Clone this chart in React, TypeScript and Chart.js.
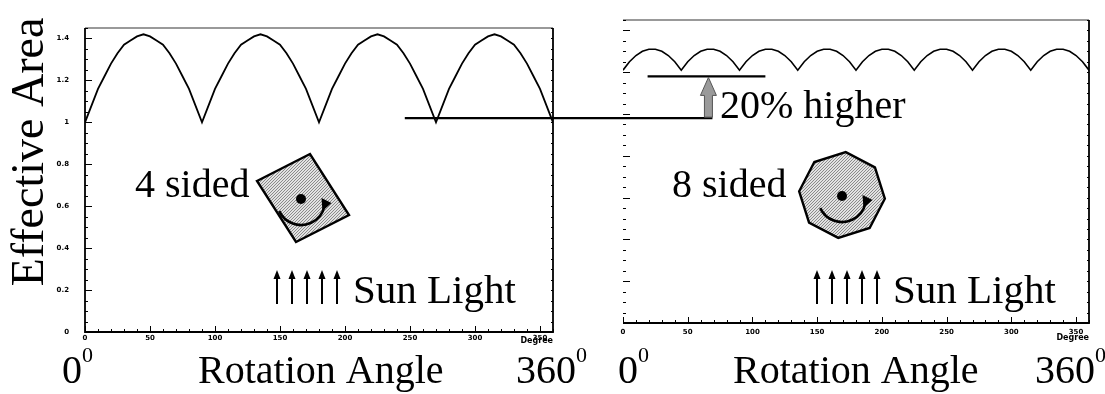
import React, { useEffect, useRef } from "react";
import { Chart, registerables } from "chart.js";

Chart.register(...registerables);

// ---------------- data ----------------
const ANGLES = [
  0, 5, 10, 15, 20, 25, 30, 35, 40, 45, 50, 55, 60, 65, 70, 75, 80, 85,
  90, 95, 100, 105, 110, 115, 120, 125, 130, 135, 140, 145, 150, 155, 160, 165, 170, 175,
  180, 185, 190, 195, 200, 205, 210, 215, 220, 225, 230, 235, 240, 245, 250, 255, 260, 265,
  270, 275, 280, 285, 290, 295, 300, 305, 310, 315, 320, 325, 330, 335, 340, 345, 350, 355,
  360,
];

// effective area of the 4 sided body
const FOUR_SIDED = [
  1.0, 1.08, 1.16, 1.22, 1.28, 1.33, 1.37, 1.39, 1.41, 1.42, 1.41, 1.39, 1.37, 1.33, 1.28, 1.22, 1.16, 1.08,
  1.0, 1.08, 1.16, 1.22, 1.28, 1.33, 1.37, 1.39, 1.41, 1.42, 1.41, 1.39, 1.37, 1.33, 1.28, 1.22, 1.16, 1.08,
  1.0, 1.08, 1.16, 1.22, 1.28, 1.33, 1.37, 1.39, 1.41, 1.42, 1.41, 1.39, 1.37, 1.33, 1.28, 1.22, 1.16, 1.08,
  1.0, 1.08, 1.16, 1.22, 1.28, 1.33, 1.37, 1.39, 1.41, 1.42, 1.41, 1.39, 1.37, 1.33, 1.28, 1.22, 1.16, 1.08,
  1.0,
];

// effective area of the 8 sided body
const EIGHT_SIDED = [
  1.21, 1.25, 1.28, 1.3, 1.31, 1.31, 1.3, 1.28, 1.25,
  1.21, 1.25, 1.28, 1.3, 1.31, 1.31, 1.3, 1.28, 1.25,
  1.21, 1.25, 1.28, 1.3, 1.31, 1.31, 1.3, 1.28, 1.25,
  1.21, 1.25, 1.28, 1.3, 1.31, 1.31, 1.3, 1.28, 1.25,
  1.21, 1.25, 1.28, 1.3, 1.31, 1.31, 1.3, 1.28, 1.25,
  1.21, 1.25, 1.28, 1.3, 1.31, 1.31, 1.3, 1.28, 1.25,
  1.21, 1.25, 1.28, 1.3, 1.31, 1.31, 1.3, 1.28, 1.25,
  1.21, 1.25, 1.28, 1.3, 1.31, 1.31, 1.3, 1.28, 1.25,
  1.21,
];

const X_TICKS = [0, 50, 100, 150, 200, 250, 300, 350];
const Y_TICKS = [0, 0.2, 0.4, 0.6, 0.8, 1, 1.2, 1.4];
const X_MAX = 360;
const Y_MAX = 1.45;

// annotation levels ("20% higher")
const BASE_LEVEL = 1.02; // drawn on the left panel scale
const BASE_FROM_DEG = 246; // left panel
const RAISED_LEVEL = 1.18; // right panel scale
const RAISED_FROM_DEG = 19;
const RAISED_TO_DEG = 110;
const ARROW_DEG = 66; // right panel

const SERIF = '"Liberation Serif", "Times New Roman", serif';
const SMALL = "DejaVu Sans";

// ---------------- drawing helpers ----------------
function txt(
  ctx: CanvasRenderingContext2D,
  s: string,
  x: number,
  y: number,
  size: number,
  opts: { sx?: number; align?: CanvasTextAlign; rot?: number } = {}
) {
  ctx.save();
  ctx.translate(x, y);
  if (opts.rot) ctx.rotate(opts.rot);
  ctx.scale(opts.sx ?? 1, 1);
  ctx.font = `${size}px ${SERIF}`;
  ctx.textAlign = opts.align ?? "left";
  ctx.textBaseline = "alphabetic";
  ctx.fillStyle = "#000";
  ctx.fillText(s, 0, 0);
  ctx.restore();
}

function degreeText(ctx: CanvasRenderingContext2D, s: string, x: number, y: number) {
  ctx.save();
  ctx.font = `40px ${SERIF}`;
  ctx.fillStyle = "#000";
  ctx.textBaseline = "alphabetic";
  ctx.fillText(s, x, y);
  const w = ctx.measureText(s).width;
  ctx.font = `22px ${SERIF}`;
  ctx.fillText("0", x + w, y - 21);
  ctx.restore();
}

function sunArrows(ctx: CanvasRenderingContext2D, x0: number, yTop: number, yBot: number) {
  ctx.save();
  ctx.strokeStyle = "#000";
  ctx.fillStyle = "#000";
  ctx.lineWidth = 2;
  for (let i = 0; i < 5; i++) {
    const x = x0 + i * 15;
    ctx.beginPath();
    ctx.moveTo(x, yBot);
    ctx.lineTo(x, yTop + 6);
    ctx.stroke();
    ctx.beginPath();
    ctx.moveTo(x, yTop);
    ctx.lineTo(x - 3.5, yTop + 9);
    ctx.lineTo(x + 3.5, yTop + 9);
    ctx.closePath();
    ctx.fill();
  }
  ctx.restore();
}

function rotArrow(ctx: CanvasRenderingContext2D, cx: number, cy: number, r: number) {
  ctx.save();
  ctx.fillStyle = "#000";
  ctx.strokeStyle = "#000";
  ctx.beginPath();
  ctx.arc(cx, cy, 5, 0, Math.PI * 2);
  ctx.fill();
  const a0 = (155 * Math.PI) / 180;
  const a1 = (12 * Math.PI) / 180;
  ctx.lineWidth = 2.6;
  ctx.beginPath();
  ctx.arc(cx, cy + 2, r, a0, a1, true);
  ctx.stroke();
  const ex = cx + r * Math.cos(a1);
  const ey = cy + 2 + r * Math.sin(a1);
  ctx.beginPath();
  ctx.moveTo(ex + 7, ey - 3);
  ctx.lineTo(ex - 3, ey - 8);
  ctx.lineTo(ex - 2, ey + 5);
  ctx.closePath();
  ctx.fill();
  ctx.restore();
}

function shape(ctx: CanvasRenderingContext2D, pts: [number, number][], fill: CanvasPattern | string) {
  ctx.save();
  ctx.beginPath();
  pts.forEach(([x, y], i) => (i ? ctx.lineTo(x, y) : ctx.moveTo(x, y)));
  ctx.closePath();
  ctx.fillStyle = fill;
  ctx.fill();
  ctx.lineWidth = 2.4;
  ctx.strokeStyle = "#000";
  ctx.lineJoin = "miter";
  ctx.stroke();
  ctx.restore();
}

function drawFrame(chart: any, solidLeft: boolean) {
  const { ctx, chartArea } = chart;
  const { left, right, top, bottom } = chartArea;
  const x = chart.scales.x;
  const y = chart.scales.y;
  ctx.save();
  ctx.strokeStyle = "#000";
  ctx.lineWidth = 1.8;
  ctx.beginPath();
  if (solidLeft) {
    ctx.moveTo(left, top);
    ctx.lineTo(left, bottom);
  } else {
    ctx.moveTo(left, bottom);
  }
  ctx.lineTo(right, bottom);
  ctx.lineTo(right, top);
  ctx.stroke();
  ctx.strokeStyle = "#777";
  ctx.lineWidth = 1.3;
  ctx.beginPath();
  ctx.moveTo(left, top);
  ctx.lineTo(right, top);
  ctx.stroke();
  ctx.strokeStyle = "#000";
  ctx.lineWidth = 1;
  ctx.beginPath();
  for (let i = 0; i <= 29; i++) {
    const py = Math.round(y.getPixelForValue(i * 0.05)) + 0.5;
    const len = i % 4 === 0 ? 7 : 3;
    ctx.moveTo(left, py);
    ctx.lineTo(left + len, py);
    ctx.moveTo(right, py);
    ctx.lineTo(right - 2, py);
  }
  for (let d = 0; d <= X_MAX; d += 10) {
    const px = Math.round(x.getPixelForValue(d)) + 0.5;
    const len = d % 50 === 0 ? 6 : 3;
    ctx.moveTo(px, bottom);
    ctx.lineTo(px, bottom - len);
  }
  ctx.stroke();
  ctx.restore();
}

function makePattern(): CanvasPattern | string {
  const c = document.createElement("canvas");
  c.width = 3;
  c.height = 3;
  const g = c.getContext("2d");
  if (!g) return "#bbb";
  g.fillStyle = "#e2e2e2";
  g.fillRect(0, 0, 3, 3);
  g.fillStyle = "#8a8a8a";
  g.fillRect(0, 0, 1, 1);
  g.fillRect(2, 1, 1, 1);
  g.fillRect(1, 2, 1, 1);
  const p = g.createPattern(c, "repeat");
  return p ?? "#bbb";
}

function scales(o: { yw: number; xh: number; yLabels: boolean; xPad: number }) {
  return {
    x: {
      type: "linear" as const,
      min: 0,
      max: X_MAX,
      afterBuildTicks: (s: any) => {
        s.ticks = X_TICKS.map((v) => ({ value: v }));
      },
      afterFit: (s: any) => {
        s.height = o.xh;
      },
      grid: { display: false, drawTicks: false },
      border: { display: false },
      ticks: {
        autoSkip: false,
        maxRotation: 0,
        padding: o.xPad,
        color: "#000",
        font: { family: SMALL, size: 7, weight: "bold" as const },
        callback: (v: any) => String(v),
      },
      title: {
        display: true,
        text: "Degree",
        align: "end" as const,
        color: "#000",
        padding: 0,
        font: { family: SMALL, size: 8, weight: "bold" as const },
      },
    },
    y: {
      type: "linear" as const,
      min: 0,
      max: Y_MAX,
      afterBuildTicks: (s: any) => {
        s.ticks = Y_TICKS.map((v) => ({ value: v }));
      },
      afterFit: (s: any) => {
        s.width = o.yw;
      },
      grid: { display: false, drawTicks: false },
      border: { display: false },
      ticks: {
        display: o.yLabels,
        padding: 16,
        color: "#000",
        font: { family: SMALL, size: 7, weight: "bold" as const },
        callback: (v: any) => String(v),
      },
    },
  };
}

function lineData(values: number[]) {
  return ANGLES.map((a, i) => ({ x: a, y: values[i] }));
}

export default function App() {
  const leftRef = useRef<HTMLCanvasElement>(null);
  const rightRef = useRef<HTMLCanvasElement>(null);

  useEffect(() => {
    document.body.style.margin = "0";
    const pat = makePattern();

    const leftDecor = {
      id: "leftDecor",
      afterDraw(chart: any) {
        const ctx = chart.ctx as CanvasRenderingContext2D;
        drawFrame(chart, true);
        txt(ctx, "Effective Area", 43, 152, 46, { rot: -Math.PI / 2, align: "center" });
        degreeText(ctx, "0", 62, 383);
        txt(ctx, "Rotation Angle", 198, 383, 40);
        degreeText(ctx, "360", 516, 383);
        txt(ctx, "4 sided", 135, 197, 40);
        shape(ctx, [[257, 181], [310, 154], [349, 215], [296, 242]], pat);
        rotArrow(ctx, 301, 199, 24);
        sunArrows(ctx, 277, 270, 304);
        txt(ctx, "Sun Light", 353, 303, 41);
      },
    };

    const left = new Chart(leftRef.current!, {
      type: "line",
      data: {
        datasets: [
          {
            label: "4 sided",
            data: lineData(FOUR_SIDED),
            borderColor: "#000",
            borderWidth: 1.8,
            pointRadius: 0,
            tension: 0,
          },
        ],
      },
      options: {
        responsive: false,
        animation: false,
        layout: { padding: { left: 45, right: 552, top: 28, bottom: 48 } },
        plugins: { legend: { display: false }, tooltip: { enabled: false } },
        scales: scales({ yw: 40, xh: 14, yLabels: true, xPad: 2 }) as any,
      },
      plugins: [leftDecor],
    });

    const rightDecor = {
      id: "rightDecor",
      afterDraw(chart: any) {
        const ctx = chart.ctx as CanvasRenderingContext2D;
        drawFrame(chart, false);
        const rx = chart.scales.x;
        const ry = chart.scales.y;
        const lx = left.scales.x;
        const ly = left.scales.y;
        const arrowX = rx.getPixelForValue(ARROW_DEG);
        const baseY = ly.getPixelForValue(BASE_LEVEL);
        const raisedY = ry.getPixelForValue(RAISED_LEVEL);
        ctx.save();
        ctx.strokeStyle = "#000";
        ctx.lineWidth = 2.4;
        ctx.beginPath();
        ctx.moveTo(lx.getPixelForValue(BASE_FROM_DEG), baseY);
        ctx.lineTo(arrowX + 4, baseY);
        ctx.moveTo(rx.getPixelForValue(RAISED_FROM_DEG), raisedY);
        ctx.lineTo(rx.getPixelForValue(RAISED_TO_DEG), raisedY);
        ctx.stroke();
        ctx.beginPath();
        ctx.moveTo(arrowX, raisedY + 1);
        ctx.lineTo(arrowX - 8, raisedY + 19);
        ctx.lineTo(arrowX - 4, raisedY + 19);
        ctx.lineTo(arrowX - 4, baseY - 1);
        ctx.lineTo(arrowX + 4, baseY - 1);
        ctx.lineTo(arrowX + 4, raisedY + 19);
        ctx.lineTo(arrowX + 8, raisedY + 19);
        ctx.closePath();
        ctx.fillStyle = "#9a9a9a";
        ctx.fill();
        ctx.lineWidth = 1;
        ctx.strokeStyle = "#555";
        ctx.stroke();
        ctx.restore();
        txt(ctx, "20% higher", 720, 118, 40);
        degreeText(ctx, "0", 618, 383);
        txt(ctx, "Rotation Angle", 733, 383, 40);
        degreeText(ctx, "360", 1035, 383);
        txt(ctx, "8 sided", 672, 197, 40);
        const pts: [number, number][] = [];
        for (let k = 0; k < 8; k++) {
          const a = ((-85 + 45 * k) * Math.PI) / 180;
          pts.push([842 + 43 * Math.cos(a), 195 + 43 * Math.sin(a)]);
        }
        shape(ctx, pts, pat);
        rotArrow(ctx, 842, 196, 24);
        sunArrows(ctx, 817, 270, 304);
        txt(ctx, "Sun Light", 893, 303, 41);
      },
    };

    const right = new Chart(rightRef.current!, {
      type: "line",
      data: {
        datasets: [
          {
            label: "8 sided",
            data: lineData(EIGHT_SIDED),
            borderColor: "#000",
            borderWidth: 1.6,
            pointRadius: 0,
            tension: 0,
          },
        ],
      },
      options: {
        responsive: false,
        animation: false,
        layout: { padding: { left: 613, right: 16, top: 20, bottom: 51 } },
        plugins: { legend: { display: false }, tooltip: { enabled: false } },
        scales: scales({ yw: 10, xh: 20, yLabels: false, xPad: 5 }) as any,
      },
      plugins: [rightDecor],
    });

    return () => {
      left.destroy();
      right.destroy();
    };
  }, []);

  return (
    <div style={{ position: "relative", width: 1105, height: 394, background: "#fff", overflow: "hidden" }}>
      <canvas ref={leftRef} width={1105} height={394} style={{ position: "absolute", left: 0, top: 0 }} />
      <canvas ref={rightRef} width={1105} height={394} style={{ position: "absolute", left: 0, top: 0 }} />
    </div>
  );
}
